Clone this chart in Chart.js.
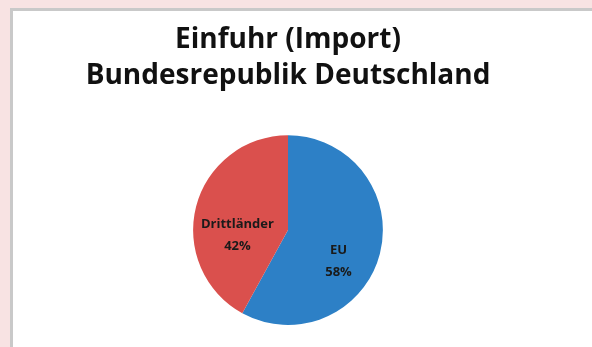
<!DOCTYPE html>
<html>
<head>
<meta charset="utf-8">
<script src="https://cdn.jsdelivr.net/npm/chart.js@4.4.1/dist/chart.umd.min.js"></script>
<style>
    html, body { margin: 0; padding: 0; }
    body { width: 592px; height: 347px; background: #f8e3e3; position: relative; overflow: hidden; }
    .frame {
        position: absolute; left: 10px; top: 8px; width: 620px; height: 380px;
        background: #fff; border-left: 3px solid #c9c9c9; border-top: 3px solid #c9c9c9;
    }
    .wrap { position: absolute; left: 0; top: 0; width: 592px; height: 347px; }
</style>
</head>
<body>
<div class="frame"></div>
<div class="wrap"><canvas id="pieChart"></canvas></div>
<script>
// Daten: Einfuhr nach Herkunft (Anteile in %)
const categories = ['EU', 'Drittländer'];
const shares = [58, 42];
const sliceColors = ['#2d80c6', '#da504d'];
const titleLines = ['Einfuhr (Import)', 'Bundesrepublik Deutschland'];

// Beschriftung in den Segmenten (Name + Prozent), etwas nach unten versetzt wie in Excel
const sliceLabels = {
    id: 'sliceLabels',
    afterDatasetsDraw(chart) {
        const ctx = chart.ctx;
        const meta = chart.getDatasetMeta(0);
        ctx.save();
        ctx.font = 'bold 13px "Open Sans", sans-serif';
        ctx.fillStyle = '#1a1a1a';
        ctx.textAlign = 'center';
        ctx.textBaseline = 'middle';
        meta.data.forEach((arc, i) => {
            const p = arc.getProps(['x', 'y', 'startAngle', 'endAngle', 'outerRadius'], true);
            const mid = (p.startAngle + p.endAngle) / 2;
            const r = p.outerRadius * 0.55;
            const x = p.x + Math.cos(mid) * r;
            const y = p.y + Math.sin(mid) * r + 18;
            ctx.fillText(categories[i], x, y - 11);
            ctx.fillText(shares[i] + '%', x, y + 11);
        });
        ctx.restore();
    }
};

new Chart(document.getElementById('pieChart'), {
    type: 'pie',
    data: {
        labels: categories,
        datasets: [{
            data: shares,
            backgroundColor: sliceColors,
            borderColor: '#ffffff',
            borderWidth: 0
        }]
    },
    options: {
        responsive: true,
        maintainAspectRatio: false,
        animation: false,
        layout: { padding: { left: 0, right: 16, top: 0, bottom: 22 } },
        plugins: {
            legend: { display: false },
            tooltip: { enabled: false },
            title: {
                display: true,
                text: titleLines,
                color: '#111',
                font: { family: '"Open Sans", sans-serif', size: 28, weight: 'bold', lineHeight: 1.29 },
                padding: { top: 22, bottom: 41 }
            }
        }
    },
    plugins: [sliceLabels]
});
</script>
</body>
</html>
